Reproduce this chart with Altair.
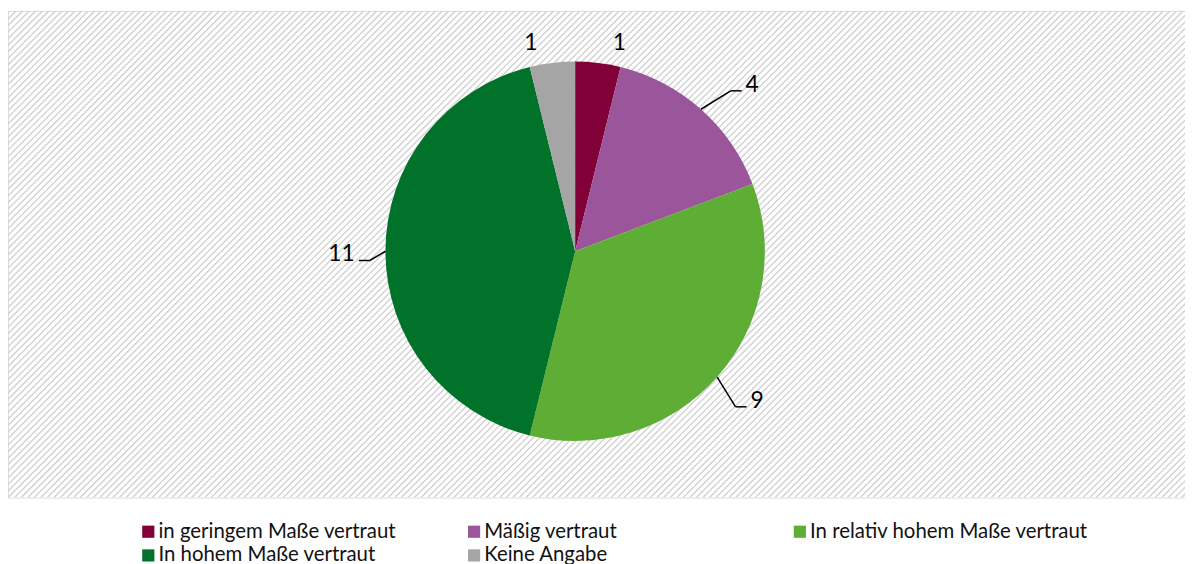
import altair as alt
import pandas as pd

categories = [
    "in geringem Maße vertraut",
    "Mäßig vertraut",
    "In relativ hohem Maße vertraut",
    "In hohem Maße vertraut",
    "Keine Angabe",
]
values = [1, 4, 9, 11, 1]
colors = ["#820038", "#9B559B", "#5EAD35", "#007229", "#A5A5A5"]

W, H = 1185, 490
CX, CY, R = 571, 242, 191
FONT = "Lato"

df = pd.DataFrame({"cat": categories, "v": values, "idx": list(range(len(values)))})

base = alt.Chart(df)

# hatched background
hatch = alt.Chart(alt.sequence(-80, 190, 1, as_="i")).transform_calculate(
    x1="datum.i * 6.6", y1=str(H), x2="datum.i * 6.6 + " + str(H), y2="0"
).mark_rule(color="#d2d2d2", strokeWidth=1.4, clip=True).encode(
    x=alt.X("x1:Q", scale=None, axis=None),
    y=alt.Y("y1:Q", scale=None, axis=None),
    x2="x2:Q",
    y2="y2:Q",
)

pie = base.mark_arc(outerRadius=R, stroke=None).encode(
    theta=alt.Theta("v:Q", stack=True),
    order=alt.Order("idx:Q"),
    color=alt.Color(
        "cat:N",
        scale=alt.Scale(domain=categories, range=colors),
        sort=categories,
        legend=alt.Legend(
            title=None,
            orient="none",
            direction="horizontal",
            legendX=131,
            legendY=514,
            columns=3,
            gridAlign="all",
            columnPadding=27,
            rowPadding=3,
            symbolType="square",
            symbolSize=150,
            symbolStrokeWidth=0,
            labelFont=FONT,
            labelFontSize=20.5,
            labelColor="#111111",
            labelOffset=0,
            labelLimit=400,
        ),
    ),
    x=alt.value(CX),
    y=alt.value(CY),
)

geo = base.transform_window(
    cum="sum(v)", sort=[alt.SortField("idx")], frame=[None, 0]
).transform_joinaggregate(total="sum(v)").transform_calculate(
    mid="(datum.cum - datum.v / 2) / datum.total * 2 * PI",
    s="sin(datum.mid) >= 0 ? 1 : -1",
).transform_calculate(
    ea="datum.mid + datum.s * 0.045",
    er="datum.s > 0 ? 225 : 207",
    ex0=f"{CX} + {R} * sin(datum.mid)",
    ey0=f"{CY} - {R} * cos(datum.mid)",
).transform_calculate(
    ex1=f"{CX} + datum.er * sin(datum.ea)",
    ey1=f"{CY} - datum.er * cos(datum.ea)",
).transform_calculate(
    ex2="datum.ex1 + datum.s * 11",
    big="datum.v >= 3",
).transform_calculate(
    lx="datum.big ? datum.ex2 + datum.s * 4 : "
    + f"{CX} + 212 * sin(datum.mid) + datum.s * 19",
    ly="datum.big ? datum.ey1 + 1 : " + f"{CY} - 212 * cos(datum.mid) + 8",
    label="toString(datum.v)",
)

lead1 = geo.transform_filter("datum.big").mark_rule(color="#000000", strokeWidth=1.5).encode(
    x=alt.X("ex0:Q", scale=None), y=alt.Y("ey0:Q", scale=None), x2="ex1:Q", y2="ey1:Q"
)
lead2 = geo.transform_filter("datum.big").mark_rule(color="#000000", strokeWidth=1.5).encode(
    x=alt.X("ex1:Q", scale=None), y=alt.Y("ey1:Q", scale=None), x2="ex2:Q"
)

txt_kw = dict(font=FONT, fontSize=23, color="#000000", baseline="alphabetic")
txt_right = geo.transform_filter("datum.big && datum.s > 0").mark_text(align="left", **txt_kw).encode(
    x=alt.X("lx:Q", scale=None), y=alt.Y("ly:Q", scale=None), text="label:N"
)
txt_left = geo.transform_filter("datum.big && datum.s < 0").mark_text(align="right", **txt_kw).encode(
    x=alt.X("lx:Q", scale=None), y=alt.Y("ly:Q", scale=None), text="label:N"
)
txt_small = geo.transform_filter("!datum.big").mark_text(align="center", **txt_kw).encode(
    x=alt.X("lx:Q", scale=None), y=alt.Y("ly:Q", scale=None), text="label:N"
)

chart = alt.layer(hatch, pie, lead1, lead2, txt_right, txt_left, txt_small).properties(
    width=W,
    height=H,
    padding={"left": 0, "top": 1, "right": 0, "bottom": 0},
).configure_view(stroke=None).configure(background="#ffffff")

chart.save("out.html", embed_options={"renderer": "svg", "actions": False})
